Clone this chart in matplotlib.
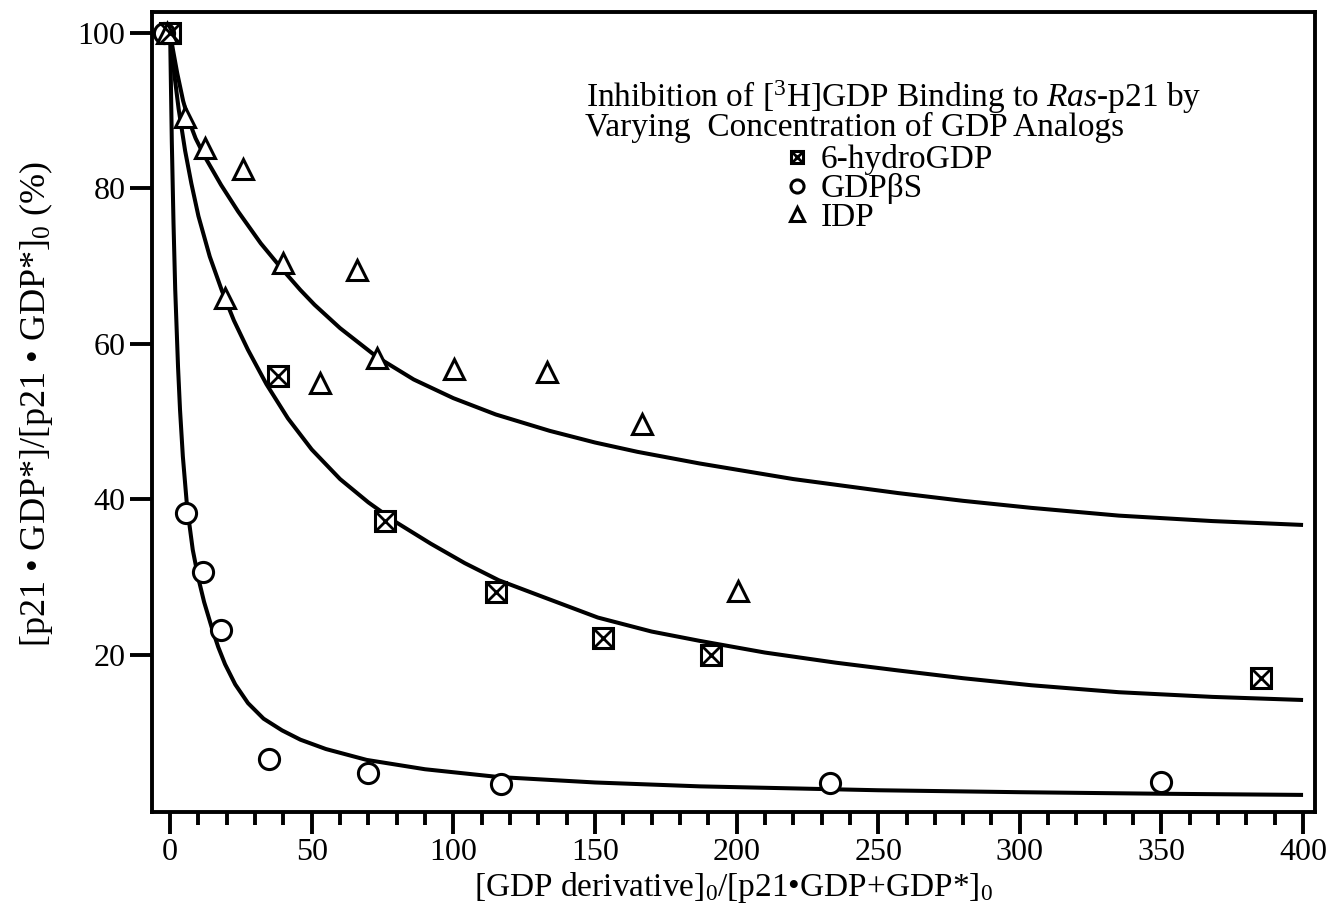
import matplotlib.pyplot as plt
from matplotlib.ticker import MultipleLocator
from matplotlib.legend_handler import HandlerTuple

plt.rcParams['font.family'] = ['Liberation Serif', 'DejaVu Serif']
plt.rcParams['mathtext.fontset'] = 'custom'
plt.rcParams['mathtext.rm'] = 'Liberation Serif'
plt.rcParams['mathtext.it'] = 'Liberation Serif:italic'

# measured points
hydro_x = [0, 38, 76, 115, 153, 191, 385]
hydro_y = [100, 55.9, 37.2, 28.1, 22.2, 20.0, 17.0]

gdpbs_x = [-2, 5.5, 11.7, 18, 35, 70, 117, 233, 350]
gdpbs_y = [100, 38.2, 30.6, 23.2, 6.6, 4.8, 3.4, 3.5, 3.6]

idp_x = [-1, 5.3, 12.3, 25.7, 19.4, 39.8, 65.9, 52.9, 73, 100.4, 133.2, 166.7, 200.5]
idp_y = [100, 89.2, 85.2, 82.4, 65.9, 70.4, 69.5, 55.0, 58.2, 56.7, 56.3, 49.7, 28.2]

# fitted curves
idp_fit_x = [0, 1, 2.5, 4.6, 6.5, 9, 12.3, 18, 24, 32, 39.5, 46, 51, 60, 73, 86, 100, 115,
             134, 150, 165, 187, 220, 257, 280, 304, 335, 368, 400]
idp_fit_y = [100, 97.8, 94.8, 91.2, 88.8, 86.4, 84.0, 80.4, 77.0, 72.9, 69.6, 66.9, 65.0, 62.0,
             58.3, 55.4, 53.0, 50.9, 48.8, 47.3, 46.1, 44.6, 42.6, 40.8, 39.8, 38.9, 37.9, 37.2, 36.7]

hydro_fit_x = [0, 1.5, 3, 5.3, 7.5, 10, 14, 18.3, 22.5, 27.5, 34, 41.6, 50, 60, 70, 80, 92, 104,
               116, 132, 151, 170, 187, 210, 235, 257, 280, 304, 335, 368, 400]
hydro_fit_y = [100, 94.6, 90.2, 84.8, 80.6, 76.4, 71.2, 66.8, 63.0, 59.2, 54.8, 50.4, 46.4, 42.6,
               39.6, 37.0, 34.3, 31.8, 29.6, 27.4, 24.8, 23.0, 21.8, 20.3, 19.0, 18.0, 17.0, 16.1,
               15.2, 14.6, 14.2]

gdpbs_fit_x = [0, 0.6, 1.2, 1.8, 2.8, 3.5, 4.5, 6, 8, 10, 12, 14.8, 17, 19.4, 23, 27.5, 33, 39.5,
               46, 55, 69.4, 90, 116, 150, 187, 250, 300, 350, 400]
gdpbs_fit_y = [100, 86, 75.5, 67, 57, 51.5, 45.5, 39, 33.5, 29.8, 26.8, 23.4, 21.0, 18.8, 16.2,
               13.8, 11.8, 10.3, 9.1, 7.9, 6.5, 5.3, 4.3, 3.6, 3.1, 2.6, 2.35, 2.15, 2.0]

fig = plt.figure(figsize=(13.32, 9.16), dpi=100)
ax = fig.add_axes([0.1141, 0.1135, 0.8731, 0.8731])

lw = 2.9
ax.plot(idp_fit_x, idp_fit_y, color='black', lw=lw, solid_capstyle='butt')
ax.plot(hydro_fit_x, hydro_fit_y, color='black', lw=lw, solid_capstyle='butt')
ax.plot(gdpbs_fit_x, gdpbs_fit_y, color='black', lw=lw, solid_capstyle='butt')

mk = dict(color='black', mfc='white', mec='black', mew=2.2, ls='none', zorder=3)
sq, = ax.plot(hydro_x, hydro_y, marker='s', ms=14, **mk)
cr, = ax.plot(hydro_x, hydro_y, marker='x', ms=14, color='black', mew=2.0, ls='none', zorder=4)
ci, = ax.plot(gdpbs_x, gdpbs_y, marker='o', ms=14.5, **mk)
tr, = ax.plot(idp_x, idp_y, marker='^', ms=15, **mk)

ax.set_xlim(-6.4, 404.2)
ax.set_ylim(-0.2, 102.6)

ax.xaxis.set_major_locator(MultipleLocator(50))
ax.xaxis.set_minor_locator(MultipleLocator(10))
ax.set_yticks([20, 40, 60, 80, 100])
ax.tick_params(axis='both', which='major', direction='out', length=16, width=2.8,
               labelsize=23, pad=3)
ax.tick_params(axis='x', which='minor', direction='out', length=9, width=2.8)
for s in ax.spines.values():
    s.set_linewidth(2.8)

ax.set_xlabel('[GDP derivative]$_0$/[p21•GDP+GDP*]$_0$', fontsize=24, labelpad=2)
ax.set_ylabel('[p21 • GDP*]/[p21 • GDP*]$_0$ (%)', fontsize=26)
ax.yaxis.set_label_coords(-0.083, 0.51)

ax.text(0.6375, 0.882, r'Inhibition of [$^3$H]GDP Binding to $\mathit{Ras}$-p21 by',
        transform=ax.transAxes, fontsize=24, ha='center', va='baseline')
ax.text(0.6045, 0.8455, 'Varying  Concentration of GDP Analogs',
        transform=ax.transAxes, fontsize=24, ha='center', va='baseline')

leg = ax.legend([(sq, cr), ci, tr], ['6-hydroGDP', 'GDPβS', 'IDP'],
                handler_map={tuple: HandlerTuple(ndivide=1, pad=0)},
                loc='upper left', bbox_to_anchor=(0.546, 0.835), frameon=False,
                fontsize=24, markerscale=0.65, handlelength=0.6, handletextpad=0.4,
                labelspacing=-0.06, borderpad=0, borderaxespad=0)

fig.savefig('out.png', dpi=100)
